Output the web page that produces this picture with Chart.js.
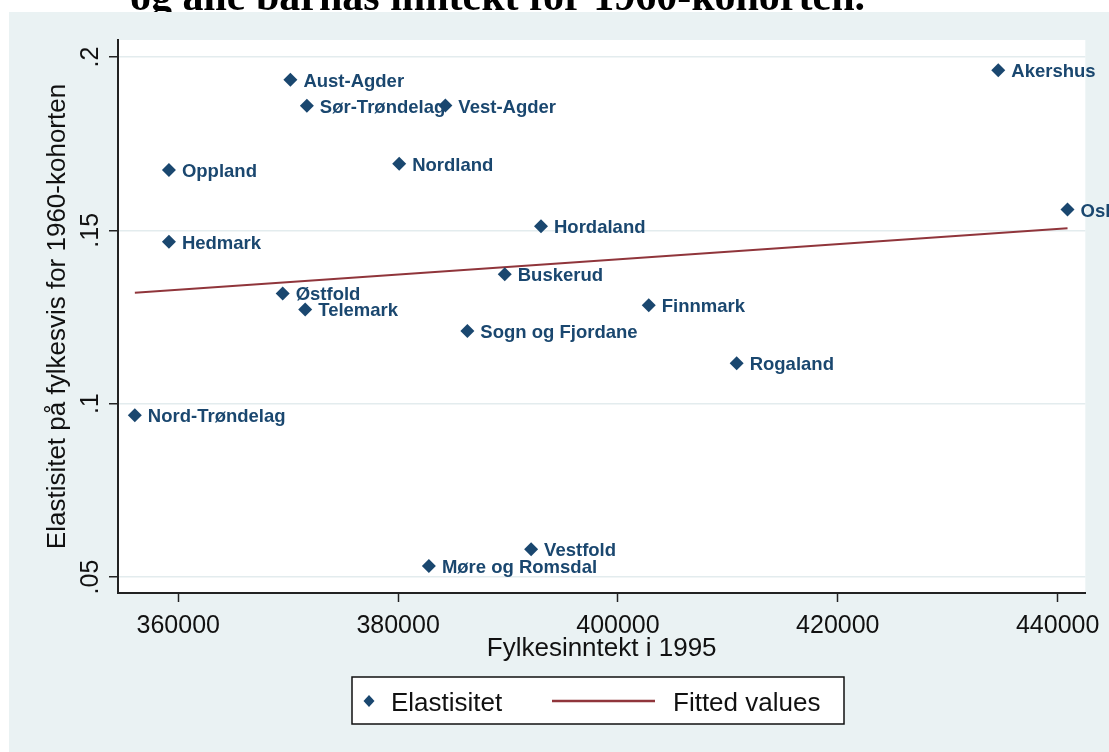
<!DOCTYPE html>
<html>
<head>
<meta charset="utf-8">
<script src="https://cdn.jsdelivr.net/npm/chart.js@4"></script>
<style>
  html, body { margin: 0; padding: 0; background: #ffffff; }
  #boks { width: 1109px; height: 752px; position: relative; }
</style>
</head>
<body>
<div id="boks"><canvas id="grafico"></canvas></div>
<script>
// fylker, inntekt 1995 og elastisitet (1960-kohorten)
const fylker = ["Østfold", "Akershus", "Oslo", "Hedmark", "Oppland", "Buskerud", "Vestfold", "Telemark",
    "Aust-Agder", "Vest-Agder", "Rogaland", "Hordaland", "Sogn og Fjordane", "Møre og Romsdal",
    "Sør-Trøndelag", "Nord-Trøndelag", "Nordland", "Finnmark"];
const inntekt = [369500, 434600, 440900, 359150, 359150, 389700, 392100, 371550,
    370200, 384300, 410800, 393000, 386300, 382800,
    371700, 356050, 380100, 402800];
const elastisitet = [0.1318, 0.1962, 0.1560, 0.1467, 0.1674, 0.1373, 0.0580, 0.1272,
    0.1934, 0.1860, 0.1117, 0.1512, 0.1210, 0.0532,
    0.1859, 0.0967, 0.1692, 0.1284];

// fitted values (endepunkter lest av figuren)
const fittedX = [356050, 440900];
const fittedY = [0.1320, 0.1506];

const xTicks = [360000, 380000, 400000, 420000, 440000];
const yTicks = [0.05, 0.1, 0.15, 0.2];
const yTickLabels = [".05", ".1", ".15", ".2"];

const tittel = "og alle barnas inntekt for 1960-kohorten.";
const xTittel = "Fylkesinntekt i 1995";
const yTittel = "Elastisitet på fylkesvis for 1960-kohorten";
const serieNavn = ["Elastisitet", "Fitted values"];

const navy = "#1a476f";
const maroon = "#90353b";
const blaagraa = "#eaf2f3";
const tekst = "#111111";
const font = "'Liberation Sans', Arial, sans-serif";

const punkter = inntekt.map((x, i) => ({ x: x, y: elastisitet[i] }));
const linje = fittedX.map((x, i) => ({ x: x, y: fittedY[i] }));

const ctx = document.getElementById("grafico").getContext("2d");

const tegning = {
    id: "tegning",
    beforeDraw(chart) {
        const c = chart.ctx;
        const a = chart.chartArea;
        c.save();
        c.fillStyle = "#ffffff";
        c.fillRect(0, 0, chart.width, chart.height);
        // avkuttet tittel fra dokumentet
        c.fillStyle = "#000000";
        c.font = "bold 42px 'Liberation Serif', 'Times New Roman', serif";
        c.textBaseline = "alphabetic";
        c.fillText(tittel, 130, 10);
        c.fillStyle = blaagraa;
        c.fillRect(9, 12, chart.width - 9, chart.height - 12);
        c.fillStyle = "#ffffff";
        c.fillRect(a.left, a.top, a.right - a.left, a.bottom - a.top);
        c.restore();
    },
    afterDatasetsDraw(chart) {
        const c = chart.ctx;
        const sx = chart.scales.x, sy = chart.scales.y;
        c.save();
        c.fillStyle = navy;
        c.font = "bold 18.5px " + font;
        c.textAlign = "left";
        c.textBaseline = "alphabetic";
        fylker.forEach((navn, i) => {
            const px = sx.getPixelForValue(inntekt[i]);
            const py = sy.getPixelForValue(elastisitet[i]);
            c.fillText(navn, px + 13, py + 7);
        });
        c.restore();
    },
    afterDraw(chart) {
        const c = chart.ctx;
        const a = chart.chartArea;
        const sy = chart.scales.y;
        c.save();
        c.fillStyle = tekst;
        // y-tick etiketter, rotert
        c.font = "25px " + font;
        c.textAlign = "center";
        c.textBaseline = "alphabetic";
        yTicks.forEach((v, i) => {
            c.save();
            c.translate(98, sy.getPixelForValue(v));
            c.rotate(-Math.PI / 2);
            c.fillText(yTickLabels[i], 0, 0);
            c.restore();
        });
        // aksetitler
        c.font = "26px " + font;
        c.save();
        c.translate(65, (a.top + a.bottom) / 2);
        c.rotate(-Math.PI / 2);
        c.fillText(yTittel, 0, 0);
        c.restore();
        c.fillText(xTittel, (a.left + a.right) / 2, 656);

        // legend
        c.fillStyle = "#ffffff";
        c.fillRect(352, 677, 492, 47);
        c.strokeStyle = "#111111";
        c.lineWidth = 1.5;
        c.strokeRect(352, 677, 492, 47);
        c.fillStyle = navy;
        c.beginPath();
        c.moveTo(369, 701 - 6); c.lineTo(369 + 5.5, 701); c.lineTo(369, 701 + 6); c.lineTo(369 - 5.5, 701);
        c.closePath();
        c.fill();
        c.strokeStyle = maroon;
        c.lineWidth = 2.5;
        c.beginPath();
        c.moveTo(552, 701);
        c.lineTo(655, 701);
        c.stroke();
        c.fillStyle = tekst;
        c.textAlign = "left";
        c.fillText(serieNavn[0], 391, 711);
        c.fillText(serieNavn[1], 673, 711);
        c.restore();
    }
};

const grafico = new Chart(ctx, {
    type: "scatter",
    data: {
        datasets: [{
            label: serieNavn[0],
            data: punkter,
            pointStyle: "rectRot",
            pointRadius: 7,
            pointHoverRadius: 7,
            backgroundColor: navy,
            borderColor: navy,
            borderWidth: 0
        }, {
            label: serieNavn[1],
            data: linje,
            showLine: true,
            pointRadius: 0,
            borderColor: maroon,
            borderWidth: 2,
            fill: false
        }]
    },
    options: {
        responsive: true,
        maintainAspectRatio: false,
        animation: false,
        devicePixelRatio: 1,
        layout: { padding: { left: 0, top: 40, right: 23, bottom: 0 } },
        plugins: {
            legend: { display: false },
            tooltip: { enabled: false }
        },
        scales: {
            x: {
                type: "linear",
                min: 354518,
                max: 442518,
                afterBuildTicks: s => { s.ticks = xTicks.map(v => ({ value: v })); },
                afterFit: s => { s.height = 159; },
                grid: { display: true, drawOnChartArea: false, drawTicks: true, tickLength: 9, tickColor: "#222", tickWidth: 1.5 },
                border: { display: true, color: "#222", width: 2 },
                ticks: {
                    autoSkip: false,
                    maxRotation: 0,
                    padding: 9,
                    color: tekst,
                    font: { family: font, size: 25 },
                    callback: v => String(v)
                }
            },
            y: {
                type: "linear",
                min: 0.0454,
                max: 0.2049,
                afterBuildTicks: s => { s.ticks = yTicks.map(v => ({ value: v })); },
                afterFit: s => { s.width = 118; },
                grid: { display: true, drawOnChartArea: true, color: "#e3ecee", lineWidth: 1.5, drawTicks: true, tickLength: 9, tickColor: "#222", tickWidth: 1.5 },
                border: { display: true, color: "#222", width: 2 },
                ticks: { display: false }
            }
        }
    },
    plugins: [tegning]
});
</script>
</body>
</html>
